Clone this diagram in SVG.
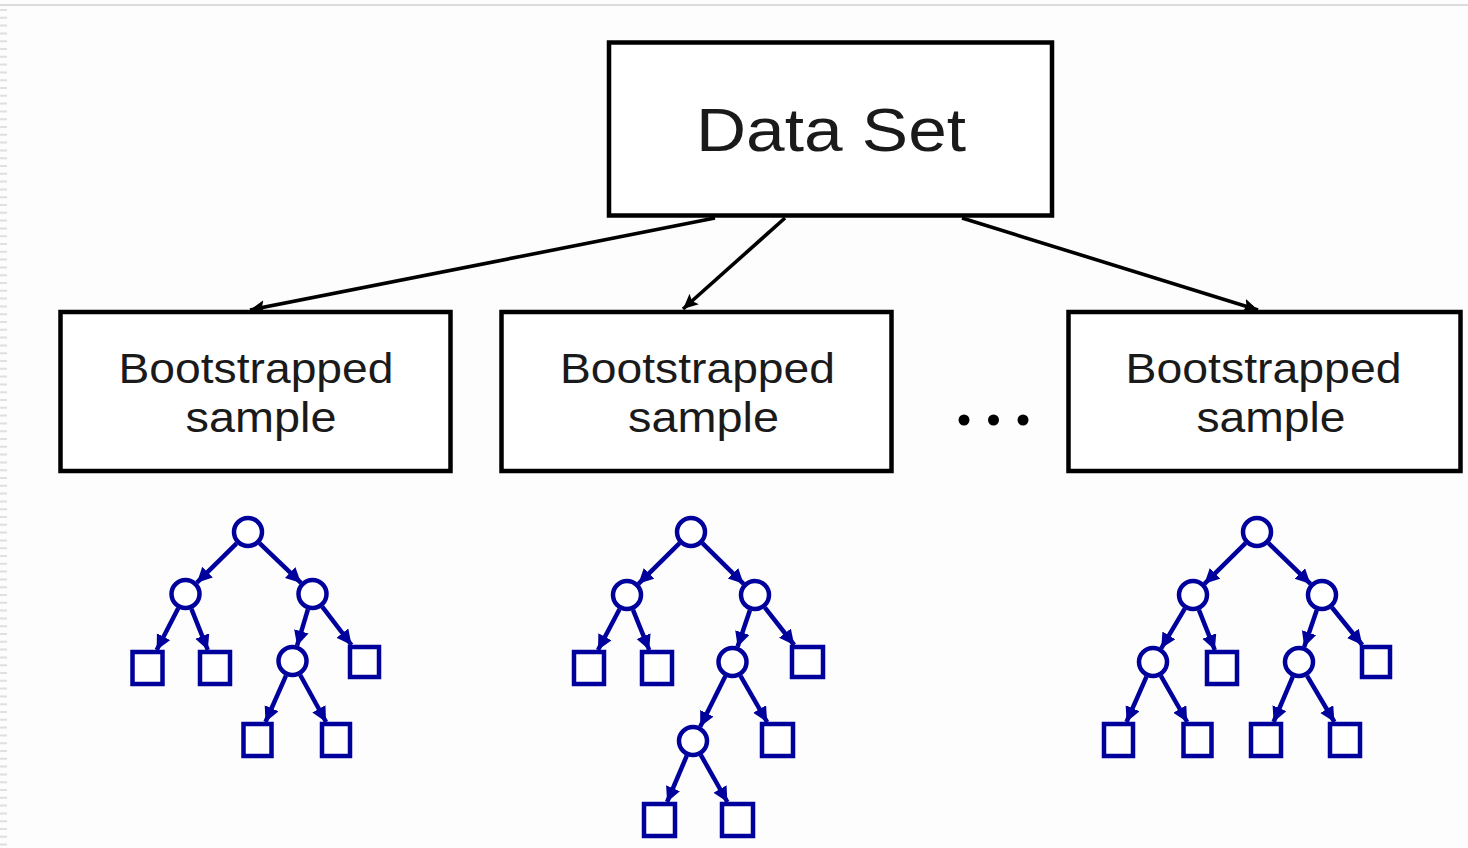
<svg xmlns="http://www.w3.org/2000/svg" width="1468" height="848" viewBox="0 0 1468 848">
  <style>
    .box { fill: #ffffff; stroke: #000000; stroke-width: 4.5; }
    .label { font-family: "Liberation Sans", Arial, sans-serif; fill: #1a1a1a; text-anchor: middle; }
    .big { font-size: 62px; }
    .mid { font-size: 43px; }
    .link { stroke: #000000; stroke-width: 3.6; fill: none; marker-end: url(#headBlack); }
    .dot { fill: #000000; }
    .tnode { fill: #ffffff; stroke: #00009c; stroke-width: 4.5; }
    .tedge { stroke: #00009c; stroke-width: 4.5; fill: none; marker-end: url(#headBlue); }
  </style>
  <defs>
    <marker id="headBlack" markerUnits="userSpaceOnUse" markerWidth="18" markerHeight="16" refX="15" refY="7" orient="auto">
      <path d="M0,0 L15,7 L0,14 L3,7 z" fill="#000000"/>
    </marker>
    <marker id="headBlue" markerUnits="userSpaceOnUse" markerWidth="18" markerHeight="16" refX="15" refY="7.5" orient="auto">
      <path d="M0,0 L15,7.5 L0,15 z" fill="#00009c"/>
    </marker>
  </defs>

  <!-- page background and frame edges -->
  <rect x="0" y="0" width="1468" height="848" fill="#fdfdfd"/>
  <line x1="0" y1="5" x2="1468" y2="5" stroke="#dcdcdc" stroke-width="2"/>
  <line x1="3.5" y1="9" x2="3.5" y2="848" stroke="#e0e0e0" stroke-width="7" stroke-dasharray="2 5.8"/>

  <!-- top node -->
  <g id="data-set">
    <rect class="box" x="609" y="42.5" width="443" height="173"/>
    <text class="label big" x="831" y="151" textLength="270" lengthAdjust="spacingAndGlyphs">Data Set</text>
  </g>

  <!-- bootstrap sample nodes -->
  <g id="sample-1">
    <rect class="box" x="60.5" y="312" width="390" height="159"/>
    <text class="label mid" x="256" y="383" textLength="275" lengthAdjust="spacingAndGlyphs">Bootstrapped</text>
    <text class="label mid" x="261" y="432" textLength="151" lengthAdjust="spacingAndGlyphs">sample</text>
  </g>
  <g id="sample-2">
    <rect class="box" x="501.5" y="312" width="390" height="159"/>
    <text class="label mid" x="697.5" y="383" textLength="275" lengthAdjust="spacingAndGlyphs">Bootstrapped</text>
    <text class="label mid" x="703.5" y="432" textLength="151" lengthAdjust="spacingAndGlyphs">sample</text>
  </g>
  <g id="sample-n">
    <rect class="box" x="1068.5" y="312" width="392" height="159"/>
    <text class="label mid" x="1263.5" y="383" textLength="276" lengthAdjust="spacingAndGlyphs">Bootstrapped</text>
    <text class="label mid" x="1271" y="432" textLength="149" lengthAdjust="spacingAndGlyphs">sample</text>
  </g>

  <!-- ellipsis between samples -->
  <g id="ellipsis">
    <circle class="dot" cx="964" cy="420" r="5.5"/>
    <circle class="dot" cx="993.5" cy="420" r="5.5"/>
    <circle class="dot" cx="1023" cy="420" r="5.5"/>
  </g>

  <!-- connectors from the data set to each sample -->
  <g id="connectors">
    <line class="link" x1="715" y1="218" x2="250" y2="310"/>
    <line class="link" x1="785" y1="218" x2="683" y2="309"/>
    <line class="link" x1="962" y1="218" x2="1258" y2="310"/>
  </g>

  <!-- tree grown on sample 1 -->
  <g id="tree-1">
    <g class="edges">
      <line class="tedge" x1="236.6" y1="543.3" x2="196.9" y2="582.7"/>
      <line class="tedge" x1="259.5" y1="543.1" x2="301" y2="582.9"/>
      <line class="tedge" x1="178.2" y1="608.2" x2="156.7" y2="650"/>
      <line class="tedge" x1="191.4" y1="608.8" x2="207.8" y2="650"/>
      <line class="tedge" x1="307.9" y1="609.3" x2="297.1" y2="645.7"/>
      <line class="tedge" x1="322.2" y1="606.7" x2="351.5" y2="645"/>
      <line class="tedge" x1="286" y1="675.6" x2="265.5" y2="722"/>
      <line class="tedge" x1="300.2" y1="675" x2="326.1" y2="722"/>
    </g>
    <circle class="tnode" cx="248" cy="532" r="14"/>
    <circle class="tnode" cx="185.5" cy="594" r="14"/>
    <circle class="tnode" cx="312.5" cy="594" r="14"/>
    <circle class="tnode" cx="292.5" cy="661" r="14"/>
    <rect class="tnode" x="132.5" y="652" width="30" height="32"/>
    <rect class="tnode" x="200" y="652" width="30" height="32"/>
    <rect class="tnode" x="350" y="647" width="29" height="30"/>
    <rect class="tnode" x="243.5" y="724" width="28" height="32"/>
    <rect class="tnode" x="322" y="724" width="28" height="32"/>
  </g>

  <!-- tree grown on sample 2 -->
  <g id="tree-2">
    <g class="edges">
      <line class="tedge" x1="679.6" y1="543.2" x2="638.4" y2="583.8"/>
      <line class="tedge" x1="702.4" y1="543.2" x2="743.6" y2="583.8"/>
      <line class="tedge" x1="619.5" y1="609.2" x2="598" y2="650"/>
      <line class="tedge" x1="633" y1="609.8" x2="649.2" y2="650"/>
      <line class="tedge" x1="749.9" y1="610.2" x2="737.6" y2="646.8"/>
      <line class="tedge" x1="764.9" y1="607.6" x2="794.2" y2="645"/>
      <line class="tedge" x1="725.3" y1="676.3" x2="700.2" y2="726.7"/>
      <line class="tedge" x1="740.5" y1="675.9" x2="767.1" y2="722"/>
      <line class="tedge" x1="686.8" y1="755.7" x2="667.1" y2="802"/>
      <line class="tedge" x1="700.8" y1="754.9" x2="727.4" y2="802"/>
    </g>
    <circle class="tnode" cx="691" cy="532" r="14"/>
    <circle class="tnode" cx="627" cy="595" r="14"/>
    <circle class="tnode" cx="755" cy="595" r="14"/>
    <circle class="tnode" cx="732.5" cy="662" r="14"/>
    <circle class="tnode" cx="693" cy="741" r="14"/>
    <rect class="tnode" x="574" y="652" width="30" height="32"/>
    <rect class="tnode" x="642" y="652" width="30" height="32"/>
    <rect class="tnode" x="792" y="647" width="31" height="30"/>
    <rect class="tnode" x="762" y="724" width="31" height="32"/>
    <rect class="tnode" x="644" y="804" width="31" height="32"/>
    <rect class="tnode" x="722" y="804" width="31" height="32"/>
  </g>

  <!-- tree grown on the last sample -->
  <g id="tree-n">
    <g class="edges">
      <line class="tedge" x1="1245.6" y1="543.2" x2="1204.4" y2="583.8"/>
      <line class="tedge" x1="1268.5" y1="543.1" x2="1310.5" y2="583.9"/>
      <line class="tedge" x1="1184.8" y1="608.7" x2="1161.2" y2="648.3"/>
      <line class="tedge" x1="1198.9" y1="609.9" x2="1214.8" y2="650"/>
      <line class="tedge" x1="1316.8" y1="610.1" x2="1304.2" y2="646.9"/>
      <line class="tedge" x1="1332" y1="607.5" x2="1362.3" y2="645"/>
      <line class="tedge" x1="1146.5" y1="676.6" x2="1126.5" y2="722"/>
      <line class="tedge" x1="1160.9" y1="675.9" x2="1187.2" y2="722"/>
      <line class="tedge" x1="1292.8" y1="676.7" x2="1273.6" y2="722"/>
      <line class="tedge" x1="1307.1" y1="675.8" x2="1334.4" y2="722"/>
    </g>
    <circle class="tnode" cx="1257" cy="532" r="14"/>
    <circle class="tnode" cx="1193" cy="595" r="14"/>
    <circle class="tnode" cx="1322" cy="595" r="14"/>
    <circle class="tnode" cx="1153" cy="662" r="14"/>
    <circle class="tnode" cx="1299" cy="662" r="14"/>
    <rect class="tnode" x="1207" y="652" width="30" height="32"/>
    <rect class="tnode" x="1362" y="647" width="28" height="30"/>
    <rect class="tnode" x="1104" y="724" width="29" height="32"/>
    <rect class="tnode" x="1183.5" y="724" width="28" height="32"/>
    <rect class="tnode" x="1251" y="724" width="30" height="32"/>
    <rect class="tnode" x="1330" y="724" width="30" height="32"/>
  </g>
</svg>
